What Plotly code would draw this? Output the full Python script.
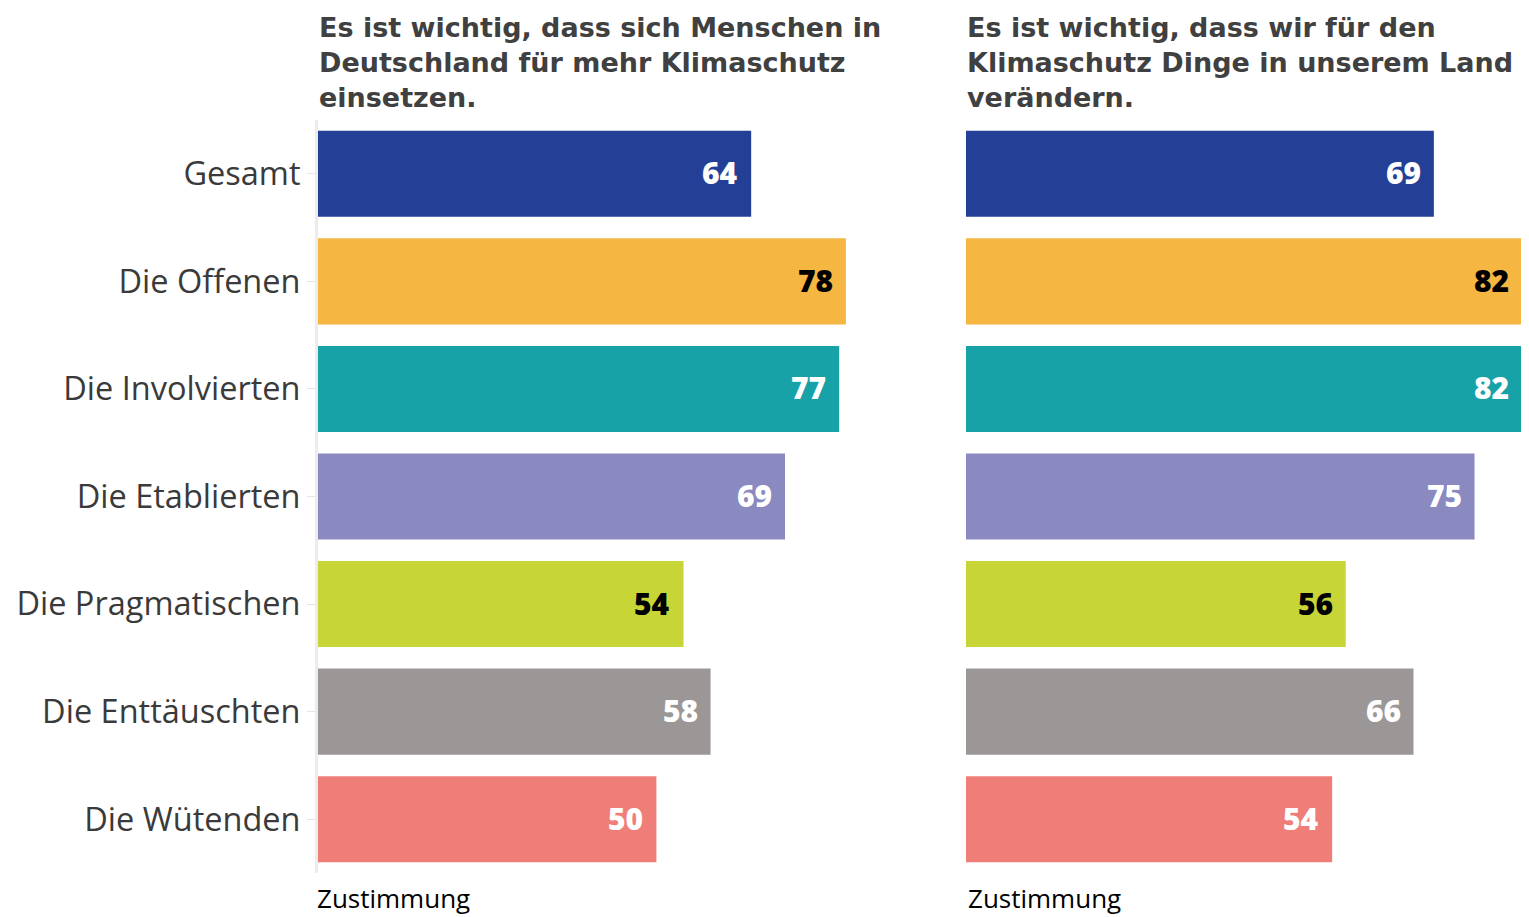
import plotly.graph_objects as go

groups = ["Gesamt", "Die Offenen", "Die Involvierten", "Die Etablierten",
          "Die Pragmatischen", "Die Enttäuschten", "Die Wütenden"]
values_left = [64, 78, 77, 69, 54, 58, 50]
values_right = [69, 82, 82, 75, 56, 66, 54]
bar_colors = ["#233f96", "#f5b642", "#17a2a8", "#8a89c0", "#c7d536", "#9b9796", "#ef7e79"]
label_colors = ["white", "black", "white", "white", "black", "white", "white"]
title_left_lines = ["Es ist wichtig, dass sich Menschen in",
                    "Deutschland für mehr Klimaschutz",
                    "einsetzen."]
title_right_lines = ["Es ist wichtig, dass wir für den",
                     "Klimaschutz Dinge in unserem Land",
                     "verändern."]
axis_title = "Zustimmung"

FONT = "Open Sans"
TITLE_FONT = "DejaVu Sans"
OFF = 8  # page body margin
W, H = 1529 - OFF, 917 - OFF
ML, MR, MT, MB = 318 - OFF, 7, 120 - OFF, 44
PW = W - ML - MR
PH = H - MT - MB

fig = go.Figure()
fig.add_trace(go.Bar(x=values_left, y=groups, orientation="h",
                     marker=dict(color=bar_colors, line=dict(width=0)),
                     xaxis="x", yaxis="y", hoverinfo="skip", showlegend=False))
fig.add_trace(go.Bar(x=values_right, y=groups, orientation="h",
                     marker=dict(color=bar_colors, line=dict(width=0)),
                     xaxis="x2", yaxis="y2", hoverinfo="skip", showlegend=False))

annotations = []
for vals, xr, yr in [(values_left, "x", "y"), (values_right, "x2", "y2")]:
    for g, v, c in zip(groups, vals, label_colors):
        annotations.append(dict(x=v, y=g, xref=xr, yref=yr, text=str(v),
                                xanchor="right", yanchor="middle", xshift=-11, yshift=1,
                                showarrow=False,
                                font=dict(family=FONT, size=30, color=c, weight=800)))

def py(page_px):
    return (H - MB - (page_px - OFF)) / PH

for lines, xr in [(title_left_lines, "x domain"), (title_right_lines, "x2 domain")]:
    annotations.append(dict(x=0, y=py(62), xref=xr, yref="paper", text="<br>".join(lines),
                            xanchor="left", yanchor="middle", align="left", showarrow=False,
                            borderpad=0,
                            font=dict(family=TITLE_FONT, size=27, color="#404040", weight="bold")))

for xr, xs in [("x domain", -2), ("x2 domain", 1)]:
    annotations.append(dict(x=0, y=py(898), xref=xr, yref="paper", text=axis_title,
                            xanchor="left", yanchor="middle", xshift=xs, showarrow=False,
                            borderpad=0,
                            font=dict(family=FONT, size=26, color="black")))

d1 = 555 / PW
d2 = 648 / PW

fig.update_layout(
    width=W, height=H,
    margin=dict(l=ML, r=MR, t=MT, b=MB, pad=0),
    paper_bgcolor="white", plot_bgcolor="white",
    bargap=0.2,
    xaxis=dict(domain=[0, d1], range=[0, 82], showgrid=False, zeroline=False,
               showticklabels=False, ticks=""),
    xaxis2=dict(domain=[d2, 1], range=[0, 82], showgrid=False, zeroline=False,
                showticklabels=False, ticks="", anchor="y2"),
    yaxis=dict(categoryorder="array", categoryarray=groups, range=[6.5, -0.5],
               showgrid=False, zeroline=False, showline=True, linecolor="#ececec",
               linewidth=3, ticks="outside", ticklen=8, tickcolor="#e6e6e6",
               tickwidth=1, tickfont=dict(family=FONT, size=32.5, color="#3a3a3a"),
               anchor="x"),
    yaxis2=dict(categoryorder="array", categoryarray=groups, range=[6.5, -0.5],
                showgrid=False, zeroline=False, showticklabels=False, ticks="",
                anchor="x2", matches="y"),
    annotations=annotations,
)

fig.write_html("out.html")
